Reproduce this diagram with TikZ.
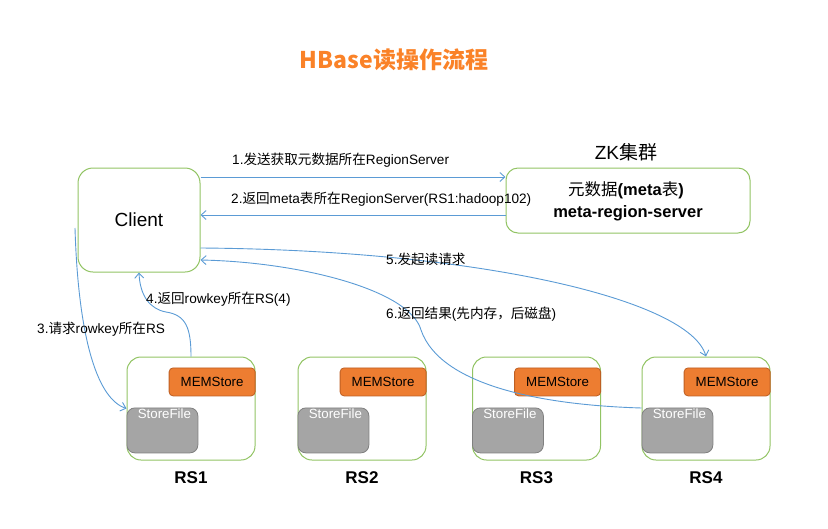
\documentclass[tikz,border=0pt]{standalone}
\usepackage{fontspec}
\setmainfont{Liberation Sans}
\newfontfamily\cjk{Noto Sans CJK SC}
\usetikzlibrary{arrows.meta}
\newcommand\zh[1]{{\cjk #1}}
\definecolor{arrowblue}{RGB}{91,155,213}
\definecolor{boxgreen}{RGB}{146,196,100}
\definecolor{memfill}{RGB}{237,125,49}
\definecolor{memdraw}{RGB}{190,95,35}
\definecolor{sffill}{RGB}{165,165,165}
\definecolor{sfdraw}{RGB}{128,128,128}
\definecolor{titleorange}{RGB}{250,130,40}
\tikzset{
  greenbox/.style={draw=boxgreen, line width=1pt, fill=white, rounded corners=15pt, inner sep=0pt},
  mem/.style={draw=memdraw, fill=memfill, line width=0.8pt, rounded corners=4pt, minimum width=86pt, minimum height=28pt, inner sep=0pt, font=\fontsize{13.3}{15}\selectfont},
  sf/.style={draw=sfdraw, fill=sffill, line width=0.8pt, rounded corners=8pt, minimum width=71pt, minimum height=45pt, inner sep=0pt},
  sftext/.style={text=white, inner sep=0pt, font=\fontsize{13.3}{15}\selectfont},
  rslabel/.style={font=\fontsize{17}{20}\selectfont\bfseries},
  lbl/.style={inner sep=0pt, anchor=west, font=\fontsize{13.6}{16}\selectfont},
  arr/.style={draw=arrowblue, line width=0.9pt, -{Straight Barb[length=5pt,width=9pt]}}
}
\begin{document}
\begin{tikzpicture}[x=1pt,y=-1pt]
\useasboundingbox (0,0) rectangle (828,528);
% title
\node[text=titleorange, font=\fontsize{23}{27}\selectfont\bfseries\cjk] (title) at (394,60) {HBase读操作流程};
% client
\node[greenbox, minimum width=122pt, minimum height=104pt, font=\fontsize{19}{22}\selectfont] (client) at (139,220) {Client};
% ZK
\node[greenbox, rounded corners=12pt, minimum width=244pt, minimum height=65pt] (zk) at (628,200.5) {};
\node[font=\fontsize{19}{22}\selectfont] (zklabel) at (626,152) {ZK\zh{集群}};
\node[font=\fontsize{16.5}{19}\selectfont] (zkt1) at (626,190) {\zh{元数据}\textbf{(meta}\zh{表}\textbf{)}};
\node[font=\fontsize{16.5}{19}\selectfont\bfseries] (zkt2) at (628,213) {meta-region-server};
% RS boxes
\foreach \i/\x in {1/191,2/362,3/536.5,4/706}{
  \node[greenbox, rounded corners=14pt, minimum width=128pt, minimum height=103pt] (rs\i) at (\x,408.5) {};
  \node[mem, anchor=north east] (mem\i) at ([yshift=-11pt]rs\i.north east) {MEMStore};
  \node[sf, anchor=north west] (sf\i) at ([yshift=-51pt]rs\i.north west) {};
  \node[sftext, anchor=north] (sft\i) at ([yshift=-1.5pt,xshift=2pt]sf\i.north) {StoreFile};
  \node[rslabel] (rsl\i) at ([yshift=-17pt]rs\i.south) {RS\i};
}
% arrows
\draw[arr] ([yshift=43pt]client.east) -- ([yshift=23.5pt]zk.west);
\node[lbl] (l1) at (232,160) {1.\zh{发送获取元数据所在}RegionServer};
\draw[arr] ([yshift=-14.5pt]zk.west) -- ([yshift=5pt]client.east);
\node[lbl] (l2) at (231,199) {2.\zh{返回}meta\zh{表所在}RegionServer(RS1:hadoop102)};
\coordinate (s3) at (75,228);
\draw[arr] (s3) .. controls (78,330) and (95,398) .. (rs1.west);
\node[lbl] (l3) at (37,329) {3.\zh{请求}rowkey\zh{所在}RS};
\draw[arr] (rs1.north) .. controls (191,328) and (186,315) .. (166,312) .. controls (150,309) and (140,296) .. (client.south);
\node[lbl] (l4) at (146,299) {4.\zh{返回}rowkey\zh{所在}RS(4)};
\draw[arr] ([yshift=-28pt]client.east) .. controls (480,250) and (690,300) .. (rs4.north);
\node[lbl] (l5) at (386,259) {5.\zh{发起读请求}};
\draw[arr] ([yshift=0.5pt]rs4.west) .. controls (540,405) and (440,385) .. (421,330) .. controls (410,290) and (300,262) .. ([yshift=-40pt]client.east);
\node[lbl] (l6) at (386,314) {6.\zh{返回结果}(\zh{先内存，后磁盘})};
\end{tikzpicture}
\end{document}
